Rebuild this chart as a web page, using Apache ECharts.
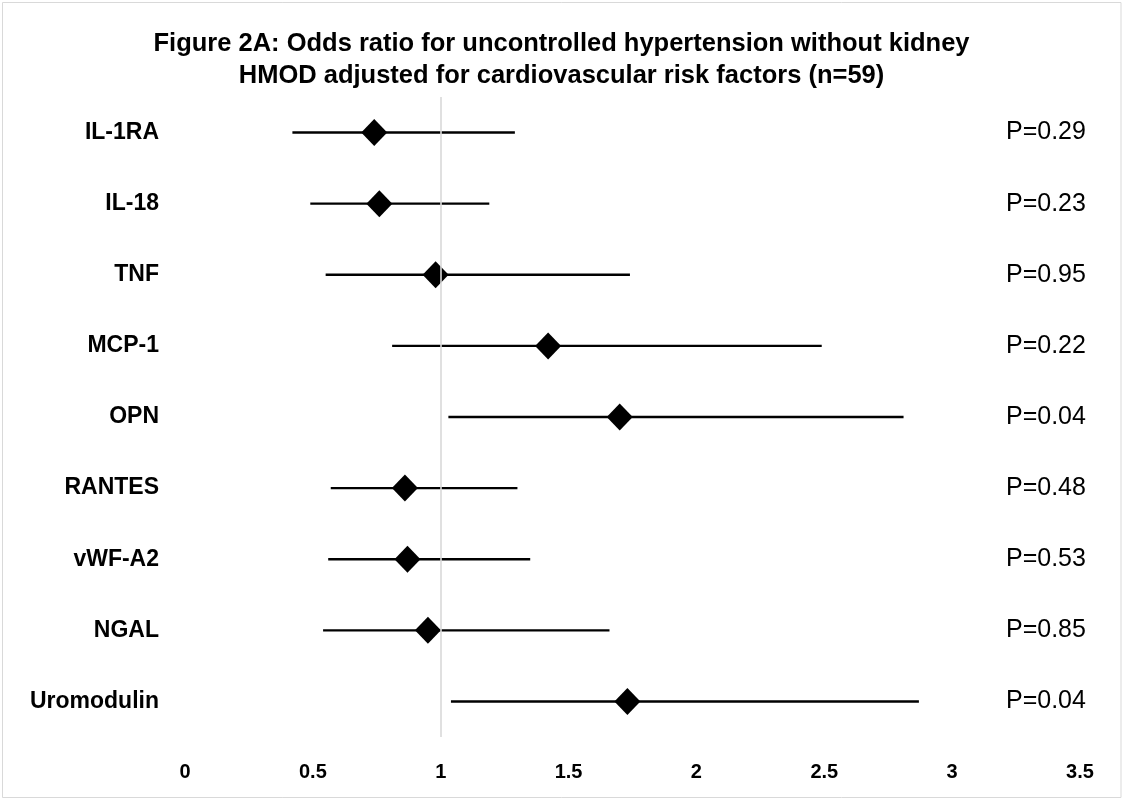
<!DOCTYPE html>
<html>
<head>
<meta charset="utf-8">
<script src="https://cdn.jsdelivr.net/npm/echarts@6/dist/echarts.min.js"></script>
<style>
    html, body { margin: 0; padding: 0; background: #fff; }
    #main-chart { width: 1123px; height: 800px; }
</style>
</head>
<body>
<div id="main-chart"></div>
<script>
var mainChart;

var markers = ['IL-1RA', 'IL-18', 'TNF', 'MCP-1', 'OPN', 'RANTES', 'vWF-A2', 'NGAL', 'Uromodulin'];
var oddsRatio = [0.74, 0.76, 0.98, 1.42, 1.70, 0.86, 0.87, 0.95, 1.73];
var ciLow = [0.42, 0.49, 0.55, 0.81, 1.03, 0.57, 0.56, 0.54, 1.04];
var ciHigh = [1.29, 1.19, 1.74, 2.49, 2.81, 1.30, 1.35, 1.66, 2.87];
var pLabels = ['P=0.29', 'P=0.23', 'P=0.95', 'P=0.22', 'P=0.04', 'P=0.48', 'P=0.53', 'P=0.85', 'P=0.04'];
var xTicks = [0, 0.5, 1, 1.5, 2, 2.5, 3, 3.5];

window.onload = function () {
    chartInit();
}

function chartInit() {
    mainChart = echarts.init(document.getElementById('main-chart'), null, { renderer: 'canvas' });

    var ciData = [];
    var orData = [];
    for (var i = 0; i < markers.length; i++) {
        ciData.push([ciLow[i], ciHigh[i], i]);
        orData.push([oddsRatio[i], i]);
    }

    var mainOpt = {
        animation: false,
        backgroundColor: '#fff',
        title: {
            text: 'Figure 2A: Odds ratio for uncontrolled hypertension without kidney\nHMOD adjusted for cardiovascular risk factors (n=59)',
            left: 'center',
            top: 23,
            textStyle: {
                fontFamily: 'Liberation Sans',
                fontWeight: 'bold',
                fontSize: 25.5,
                lineHeight: 32,
                color: '#000'
            }
        },
        graphic: [{
            type: 'rect',
            shape: { x: 2.5, y: 2.5, width: 1118.5, height: 795 },
            style: { fill: 'none', stroke: '#d9d9d9', lineWidth: 1 },
            silent: true
        }],
        grid: {
            left: 185,
            right: 43,
            top: 97,
            bottom: 63
        },
        xAxis: {
            type: 'value',
            min: xTicks[0],
            max: xTicks[xTicks.length - 1],
            interval: 0.5,
            axisLine: { show: false },
            axisTick: { show: false },
            splitLine: { show: false },
            axisLabel: {
                margin: 25,
                fontFamily: 'Liberation Sans',
                fontWeight: 'bold',
                fontSize: 20,
                color: '#000'
            }
        },
        yAxis: [{
            type: 'category',
            data: markers,
            inverse: true,
            axisLine: { show: false },
            axisTick: { show: false },
            splitLine: { show: false },
            axisLabel: {
                margin: 26,
                fontFamily: 'Liberation Sans',
                fontWeight: 'bold',
                fontSize: 23,
                color: '#000'
            }
        }, {
            type: 'category',
            data: pLabels,
            inverse: true,
            position: 'right',
            axisLine: { show: false },
            axisTick: { show: false },
            splitLine: { show: false },
            axisLabel: {
                margin: -74,
                align: 'left',
                fontFamily: 'Liberation Sans',
                fontSize: 25,
                color: '#000'
            }
        }],
        series: [{
            name: 'CI',
            type: 'custom',
            z: 2,
            data: ciData,
            renderItem: function (params, api) {
                var start = api.coord([api.value(0), api.value(2)]);
                var end = api.coord([api.value(1), api.value(2)]);
                return {
                    type: 'line',
                    shape: { x1: start[0], y1: start[1], x2: end[0], y2: end[1] },
                    style: { stroke: '#000', lineWidth: 2.4 }
                };
            }
        }, {
            name: 'Odds ratio',
            type: 'scatter',
            z: 3,
            symbol: 'diamond',
            symbolSize: [26, 27],
            itemStyle: { color: '#000', opacity: 1 },
            data: orData
        }, {
            name: 'ref',
            type: 'scatter',
            z: 10,
            data: [],
            markLine: {
                silent: true,
                symbol: ['none', 'none'],
                label: { show: false },
                lineStyle: { color: '#d9d9d9', width: 1.6, type: 'solid' },
                data: [{ xAxis: 1 }]
            }
        }]
    };

    mainChart.setOption(mainOpt);
}
</script>
</body>
</html>
